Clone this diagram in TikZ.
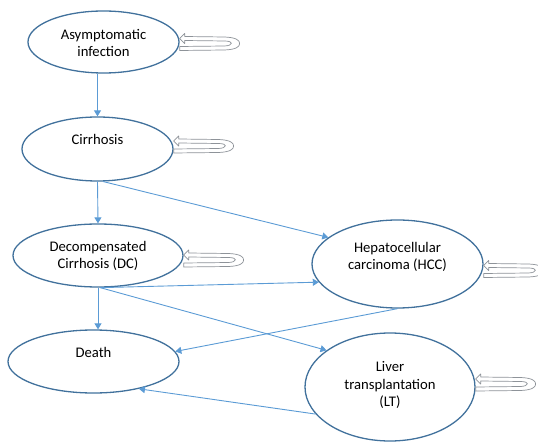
\documentclass[tikz,border=0pt]{standalone}
\usepackage{fontspec}
\setmainfont{Carlito}
\usepackage{tikz}
\usetikzlibrary{shapes.geometric}
\usetikzlibrary{arrows.meta}
\definecolor{shapeblue}{HTML}{41719C}
\definecolor{lineblue}{HTML}{5B9BD5}
\definecolor{loopgrey}{HTML}{8E9399}
\begin{document}
\begin{tikzpicture}[x=1pt, y=-1pt,
			state/.style={draw=shapeblue, ellipse, line width=1.3pt, inner sep=0pt,
				font=\fontsize{14.67}{17.9}\selectfont},
			trans/.style={draw=lineblue, line width=0.9pt, -{Triangle[width=7pt, length=6pt]}},
			hairpin/.pic={\draw[loopgrey, fill=white, line width=0.7pt, line join=round]
				(0,-5) -- (5,-10) -- (5,-7) -- (45,-6.5) .. controls (57,-6) and (60,-3) .. (60,0)
				.. controls (60,3) and (57,6) .. (45,6.5) -- (0,7) -- (0,3) -- (45,2.5)
				.. controls (54,2) and (54,-2.5) .. (45,-2.5) -- (5,-3) -- (5,0) -- cycle;}]
			\useasboundingbox (0,0) rectangle (538,446);
			
			\node[state, align=center, text height=29.9pt, text depth=0pt, minimum width=151pt, minimum height=62pt](node1) at (103.5, 42) {Asymptomatic\\infection};
			\node[state, align=center, text height=10pt, text depth=18pt, minimum width=151pt, minimum height=64pt](node2) at (97.5, 149) {Cirrhosis};
			\node[state, align=center, text height=26.9pt, text depth=0pt, minimum width=170pt, minimum height=63pt](node3) at (98, 255.5) {Decompensated\\Cirrhosis (DC)};
			\node[state, align=center, text height=10pt, text depth=18pt, minimum width=171pt, minimum height=63pt](node4) at (93.5, 361.5) {Death};
			\node[state, align=center, text height=11.9pt, text depth=0pt, minimum width=171pt, minimum height=88pt](node5) at (397.5, 264) {Hepatocellular\\carcinoma (HCC)};
			\node[state, align=center, text height=39.8pt, text depth=0pt, minimum width=170pt, minimum height=108pt](node6) at (390, 387) {Liver\\transplantation\\(LT)};
			
			\draw[trans] (node1.south -| node2.north) -- (node2.north);
			\draw[trans] (node2.south) -- (node3.north);
			\draw[trans] (node2.-80) -- (node5.159);
			\draw[trans] (node3.south) -- (node3.south |- node4.north);
			\draw[trans] (node3.-86) -- (node5.-167);
			\draw[trans] (node3.-86) -- (node6.150);
			\draw[trans] (node5.south) -- (node4.7);
			\draw[trans] (node6.-160) -- (node4.-31);
			
			\pic at ([yshift=-1.5pt]node1.east) {hairpin};
			\pic at ([yshift=3pt]node2.east) {hairpin};
			\pic at ([yshift=-4.5pt]node3.east) {hairpin};
			\pic at ([yshift=-6.5pt]node5.east) {hairpin};
			\pic at ([yshift=3pt]node6.east) {hairpin};
			\end{tikzpicture}
\end{document}
